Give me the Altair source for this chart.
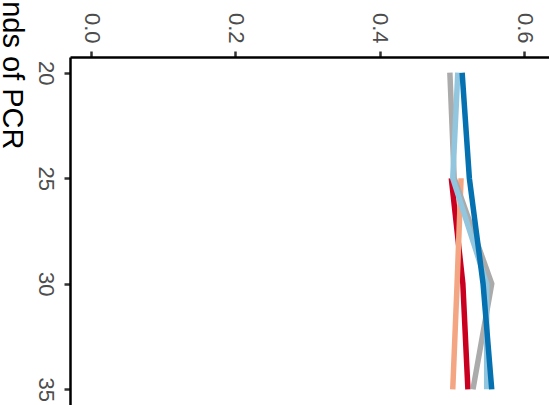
import altair as alt
import pandas as pd

# PCR rounds (vertical axis) and the measured fraction for each sample
rounds = [20, 25, 30, 35]
series_order = ["Sample 1", "Sample 2", "Sample 3", "Sample 4", "Sample 5"]
series_colors = ["#CA0020", "#F4A582", "#ABABAB", "#92C5DE", "#0571B0"]

sample_1 = [None, 0.499, 0.515, 0.522]
sample_2 = [None, 0.5125, 0.507, 0.501]
sample_3 = [0.497, 0.503, 0.555, 0.529]
sample_4 = [0.508, 0.501, 0.548, 0.548]
sample_5 = [0.514, 0.524, 0.543, 0.555]

x_ticks = [0.0, 0.2, 0.4, 0.6]
y_ticks = [20, 25, 30, 35]

rows = []
for name, vals in zip(series_order, [sample_1, sample_2, sample_3, sample_4, sample_5]):
    for r, v in zip(rounds, vals):
        if v is not None:
            rows.append({"series": name, "rounds": r, "value": v})
df = pd.DataFrame(rows)

FONT = "Liberation Sans"

chart = (
    alt.Chart(df)
    .mark_line(strokeWidth=5.5, strokeCap="butt", strokeJoin="miter")
    .encode(
        x=alt.X(
            "value:Q",
            scale=alt.Scale(domain=[-0.0291, 0.6343], nice=False, zero=False),
            axis=alt.Axis(
                orient="top",
                values=x_ticks,
                format=".1f",
                title=None,
                labelAngle=90,
                labelAlign="right",
                labelBaseline="middle",
                labelPadding=8,
            ),
        ),
        y=alt.Y(
            "rounds:Q",
            scale=alt.Scale(domain=[19.256, 35.741], nice=False, zero=False, reverse=True),
            axis=alt.Axis(
                orient="left",
                values=y_ticks,
                format="d",
                title="Rounds of PCR",
                labelAngle=90,
                labelAlign="center",
                labelBaseline="top",
                labelPadding=9,
                titleAngle=90,
                titleAlign="right",
                titleBaseline="alphabetic",
                titleX=-68,
                titleY=92,
            ),
        ),
        color=alt.Color(
            "series:N",
            scale=alt.Scale(domain=series_order, range=series_colors),
            legend=None,
        ),
        order=alt.Order("rounds:Q"),
    )
    .properties(
        width=479,
        height=348,
        background="white",
        autosize=alt.AutoSizeParams(type="none"),
        padding={"left": 70, "top": 57, "right": 0, "bottom": 0},
    )
    .configure_view(stroke=None)
    .configure_axis(
        grid=False,
        domainColor="#000000",
        domainWidth=2.5,
        tickColor="#333333",
        tickWidth=2.5,
        tickSize=6,
        labelFont=FONT,
        labelFontSize=22,
        labelColor="#4D4D4D",
        labelFlush=False,
        labelOverlap=False,
        labelBound=False,
        titleFont=FONT,
        titleFontSize=29,
        titleFontWeight="normal",
        titleColor="#000000",
    )
)

chart.save("out.html", embed_options={"renderer": "svg", "actions": False})
